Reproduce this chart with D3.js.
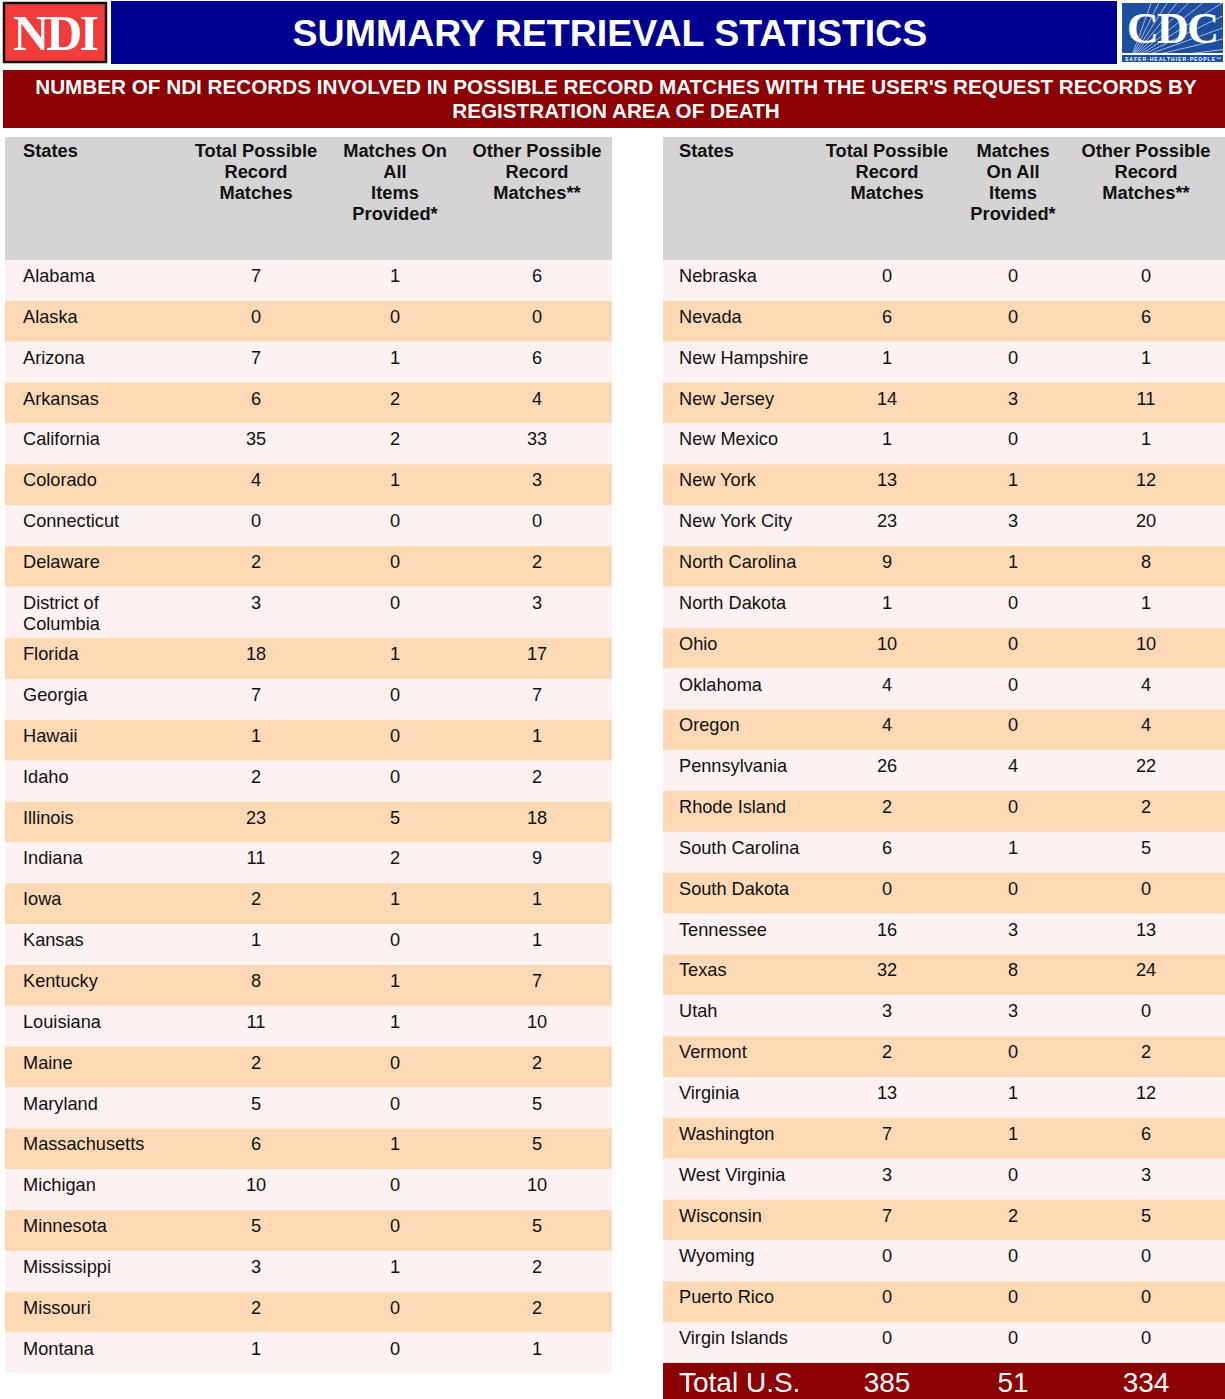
<!DOCTYPE html>
<html>
<head>
<meta charset="utf-8">
<script src="https://cdn.jsdelivr.net/npm/d3@7"></script>
<style>
  body { margin: 0; background: #fff; }
  svg { display: block; font-family: "Liberation Sans", Arial, sans-serif; }
</style>
</head>
<body>
<svg id="chart" width="1225" height="1399"></svg>
<script>
// ---- data ----
const leftStates = ["Alabama", "Alaska", "Arizona", "Arkansas", "California", "Colorado", "Connecticut",
  "Delaware", "District of\nColumbia", "Florida", "Georgia", "Hawaii", "Idaho", "Illinois", "Indiana",
  "Iowa", "Kansas", "Kentucky", "Louisiana", "Maine", "Maryland", "Massachusetts", "Michigan",
  "Minnesota", "Mississippi", "Missouri", "Montana"];
const leftTotal = [7, 0, 7, 6, 35, 4, 0, 2, 3, 18, 7, 1, 2, 23, 11, 2, 1, 8, 11, 2, 5, 6, 10, 5, 3, 2, 1];
const leftAll   = [1, 0, 1, 2, 2, 1, 0, 0, 0, 1, 0, 0, 0, 5, 2, 1, 0, 1, 1, 0, 0, 1, 0, 0, 1, 0, 0];
const leftOther = [6, 0, 6, 4, 33, 3, 0, 2, 3, 17, 7, 1, 2, 18, 9, 1, 1, 7, 10, 2, 5, 5, 10, 5, 2, 2, 1];

const rightStates = ["Nebraska", "Nevada", "New Hampshire", "New Jersey", "New Mexico", "New York",
  "New York City", "North Carolina", "North Dakota", "Ohio", "Oklahoma", "Oregon", "Pennsylvania",
  "Rhode Island", "South Carolina", "South Dakota", "Tennessee", "Texas", "Utah", "Vermont", "Virginia",
  "Washington", "West Virginia", "Wisconsin", "Wyoming", "Puerto Rico", "Virgin Islands"];
const rightTotal = [0, 6, 1, 14, 1, 13, 23, 9, 1, 10, 4, 4, 26, 2, 6, 0, 16, 32, 3, 2, 13, 7, 3, 7, 0, 0, 0];
const rightAll   = [0, 0, 0, 3, 0, 1, 3, 1, 0, 0, 0, 0, 4, 0, 1, 0, 3, 8, 3, 0, 1, 1, 0, 2, 0, 0, 0];
const rightOther = [0, 6, 1, 11, 1, 12, 20, 8, 1, 10, 4, 4, 22, 2, 5, 0, 13, 24, 0, 2, 12, 6, 3, 5, 0, 0, 0];

const grandTotal = ["Total U.S.", 385, 51, 334];

const leftHeaders  = ["States", "Total Possible\nRecord\nMatches", "Matches On\nAll\nItems\nProvided*", "Other Possible\nRecord\nMatches**"];
const rightHeaders = ["States", "Total Possible\nRecord\nMatches", "Matches\nOn All\nItems\nProvided*", "Other Possible\nRecord\nMatches**"];

const title = "SUMMARY RETRIEVAL STATISTICS";
const subtitle = ["NUMBER OF NDI RECORDS INVOLVED IN POSSIBLE RECORD MATCHES WITH THE USER'S REQUEST RECORDS BY",
  "REGISTRATION AREA OF DEATH"];

// ---- drawing ----
const svg = d3.select("#chart");
const W = 1225;
const ROW_H = 40.85, LINE_H = 21;
const colors = { light: "#fdf2f1", peach: "#fdd9b6", grey: "#d4d4d4", red: "#8b0000", navy: "#000090" };

// top bar
svg.append("rect").attr("x", 111).attr("y", 1).attr("width", 1006).attr("height", 63).attr("fill", colors.navy);
svg.append("text").attr("x", 610).attr("y", 46).attr("text-anchor", "middle")
  .attr("fill", "#fff").attr("font-weight", "bold").attr("font-size", 37.5).text(title);

// NDI logo
svg.append("rect").attr("x", 4).attr("y", 3).attr("width", 102).attr("height", 59)
  .attr("fill", "#f23b3b").attr("stroke", "#111").attr("stroke-width", 2.5);
svg.append("text").attr("x", 56).attr("y", 50).attr("text-anchor", "middle")
  .attr("fill", "#fff").attr("font-family", "'Liberation Serif', 'DejaVu Serif', serif")
  .attr("font-weight", "bold").attr("font-size", 50).attr("textLength", 86).text("NDI");

// CDC logo
const cdc = svg.append("g").attr("transform", "translate(1120,1)");
cdc.append("rect").attr("width", 105).attr("height", 63).attr("fill", "#fff");
cdc.append("rect").attr("x", 2).attr("y", 2).attr("width", 101).attr("height", 50).attr("fill", "#1d4f9e");
cdc.append("clipPath").attr("id", "cdcclip").append("rect").attr("x", 2).attr("y", 2).attr("width", 101).attr("height", 50);
const rays = cdc.append("g").attr("clip-path", "url(#cdcclip)");
d3.range(14).forEach(i => {
  const a = -Math.PI / 2 + (i / 13) * (Math.PI / 2.2);
  rays.append("line").attr("x1", 10).attr("y1", 60)
    .attr("x2", 10 + 160 * Math.cos(a + 0.35)).attr("y2", 60 + 160 * Math.sin(a + 0.35))
    .attr("stroke", "#c9d6ee").attr("stroke-width", 0.8);
});
cdc.append("text").attr("x", 53).attr("y", 42).attr("text-anchor", "middle")
  .attr("fill", "#fff").attr("font-family", "'Liberation Serif', 'DejaVu Serif', serif")
  .attr("font-weight", "bold").attr("font-size", 44).attr("textLength", 92).text("CDC");
cdc.append("rect").attr("x", 2).attr("y", 54).attr("width", 101).attr("height", 7).attr("fill", "#1d4f9e");
cdc.append("text").attr("x", 53).attr("y", 60).attr("text-anchor", "middle").attr("fill", "#fff")
  .attr("font-size", 5).attr("font-weight", "bold").attr("textLength", 96).text("SAFER·HEALTHIER·PEOPLE™");

// red banner
svg.append("rect").attr("x", 3).attr("y", 70).attr("width", W - 3).attr("height", 58).attr("fill", colors.red);
svg.append("g").selectAll("text").data(subtitle).join("text")
  .attr("x", 616).attr("y", (d, i) => 94 + i * 24).attr("text-anchor", "middle")
  .attr("fill", "#fff").attr("font-weight", "bold").attr("font-size", 20.7).text(d => d);

function drawTable(opts) {
  const { x0, x1, headers, states, total, all, other, colX } = opts;
  const g = svg.append("g");
  const rows = states.map((s, i) => ({ name: s.split("\n"), vals: [total[i], all[i], other[i]], i }));
  // cumulative row positions
  let y = 260;
  rows.forEach(r => { r.y = y; r.h = ROW_H + (r.name.length - 1) * 10.5; y += r.h; });

  // header
  g.append("rect").attr("x", x0).attr("y", 137).attr("width", x1 - x0).attr("height", 123).attr("fill", colors.grey);
  headers.forEach((h, c) => {
    g.append("text").attr("font-weight", "bold").attr("font-size", 18.3)
      .attr("text-anchor", c === 0 ? "start" : "middle").attr("fill", "#111")
      .selectAll("tspan").data(h.split("\n")).join("tspan")
      .attr("x", colX(c)).attr("y", (d, k) => 157 + k * LINE_H).text(d => d);
  });

  const rg = g.selectAll("g.row").data(rows).join("g").attr("class", "row")
    .attr("transform", d => `translate(0,${d.y})`);
  rg.append("rect").attr("x", x0).attr("width", x1 - x0).attr("height", d => d.h)
    .attr("fill", d => d.i % 2 ? colors.peach : colors.light);
  rg.append("text").attr("font-size", 18.2).attr("fill", "#111")
    .selectAll("tspan").data(d => d.name).join("tspan")
    .attr("x", colX(0)).attr("y", (d, k) => 22 + k * LINE_H).text(d => d);
  rg.selectAll("text.v").data(d => d.vals).join("text").attr("class", "v")
    .attr("x", (d, k) => colX(k + 1)).attr("y", 22).attr("text-anchor", "middle")
    .attr("font-size", 18.2).attr("fill", "#111").text(d => d);
  return y;
}

const leftX = d3.scaleOrdinal().domain([0, 1, 2, 3]).range([23, 256, 395, 537]);
const rightX = d3.scaleOrdinal().domain([0, 1, 2, 3]).range([679, 887, 1013, 1146]);

drawTable({ x0: 5, x1: 612, headers: leftHeaders, states: leftStates, total: leftTotal, all: leftAll, other: leftOther, colX: leftX });
const yEnd = drawTable({ x0: 663, x1: W, headers: rightHeaders, states: rightStates, total: rightTotal, all: rightAll, other: rightOther, colX: rightX });

// total row
svg.append("rect").attr("x", 663).attr("y", yEnd).attr("width", W - 663).attr("height", 1399 - yEnd).attr("fill", colors.red);
svg.append("g").selectAll("text").data(grandTotal).join("text")
  .attr("x", (d, i) => rightX(i)).attr("y", yEnd + 29)
  .attr("text-anchor", (d, i) => i === 0 ? "start" : "middle")
  .attr("fill", "#fff").attr("font-size", 28).text(d => d);
</script>
</body>
</html>
